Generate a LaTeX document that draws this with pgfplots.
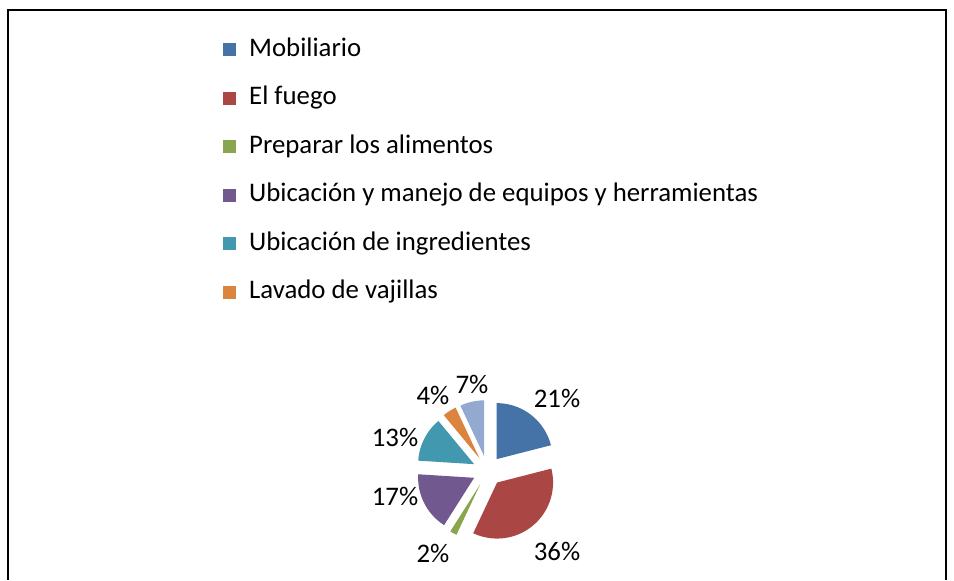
\documentclass[border=0pt]{standalone}
\usepackage{pgfplots}
\pgfplotsset{compat=1.18}
\usepackage{fontspec}
\setmainfont{Carlito}

\definecolor{c1}{HTML}{4572A7}
\definecolor{c2}{HTML}{AA4643}
\definecolor{c3}{HTML}{89A54E}
\definecolor{c4}{HTML}{71588F}
\definecolor{c5}{HTML}{4198AF}
\definecolor{c6}{HTML}{DB843D}
\definecolor{c7}{HTML}{93A9CF}

% pie centre, radius and explosion, in picture units (1 unit = 1bp)
\def\cx{487.5}
\def\cy{109}
\def\rad{56}
\def\expl{15}

% #1 start (cumulative %), #2 value (%), #3 colour, #4/#5 label offset from centre
\newcommand{\slice}[5]{%
  \pgfmathsetmacro\aA{90-3.6*#1}%
  \pgfmathsetmacro\aB{90-3.6*(#1+#2)}%
  \pgfmathsetmacro\aM{(\aA+\aB)/2}%
  \pgfmathsetmacro\vx{\cx+\expl*cos(\aM)}%
  \pgfmathsetmacro\vy{\cy+\expl*sin(\aM)}%
  \pgfmathsetmacro\lx{\cx+#4}%
  \pgfmathsetmacro\ly{\cy+#5}%
  \edef\temp{\noexpand\addplot[fill=#3, draw=none, domain=\aB:\aA, samples=60]
    ({\vx+\rad*cos(x)},{\vy+\rad*sin(x)}) -- (axis cs:\vx,\vy) -- cycle;
    \noexpand\node[font=\noexpand\fontsize{26.8bp}{32bp}\noexpand\selectfont] at (axis cs:\lx,\ly) {#2\noexpand\%};}%
  \temp
}

\begin{document}
\begin{tikzpicture}
\begin{axis}[
  scale only axis,
  width=954bp, height=580bp,
  xmin=0, xmax=954, ymin=0, ymax=580,
  enlargelimits=false,
  hide axis,
  clip=false,
  legend style={
    at={(axis cs:223,543)}, anchor=north west,
    draw=none, fill=none, inner sep=0pt,
    row sep=23.5bp, column sep=13bp,
    font=\fontsize{26.8bp}{32bp}\selectfont,
    nodes={inner sep=0pt, text height=19bp, text depth=6bp},
  },
  legend cell align=left,
  legend image code/.code={\path[#1] (0bp,-6.5bp) rectangle (13bp,6.5bp);},
  legend columns=1,
]
\path (axis cs:0,0) rectangle (axis cs:954,580);
\draw[line width=1.3bp] (axis cs:8,0) -- (axis cs:8,570) -- (axis cs:946,570) -- (axis cs:946,0);

\slice{0}{21}{c1}{69.5}{73}
\slice{21}{36}{c2}{69.5}{-80}
\slice{57}{2}{c3}{-54.5}{-82}
\slice{59}{17}{c4}{-92.5}{-25}
\slice{76}{13}{c5}{-92.5}{34}
\slice{89}{4}{c6}{-54.5}{76}
\slice{93}{7}{c7}{-15.5}{87}

\legend{Mobiliario, El fuego, Preparar los alimentos,
  Ubicación y manejo de equipos y herramientas,
  Ubicación de ingredientes, Lavado de vajillas}
\end{axis}
\end{tikzpicture}
\end{document}
